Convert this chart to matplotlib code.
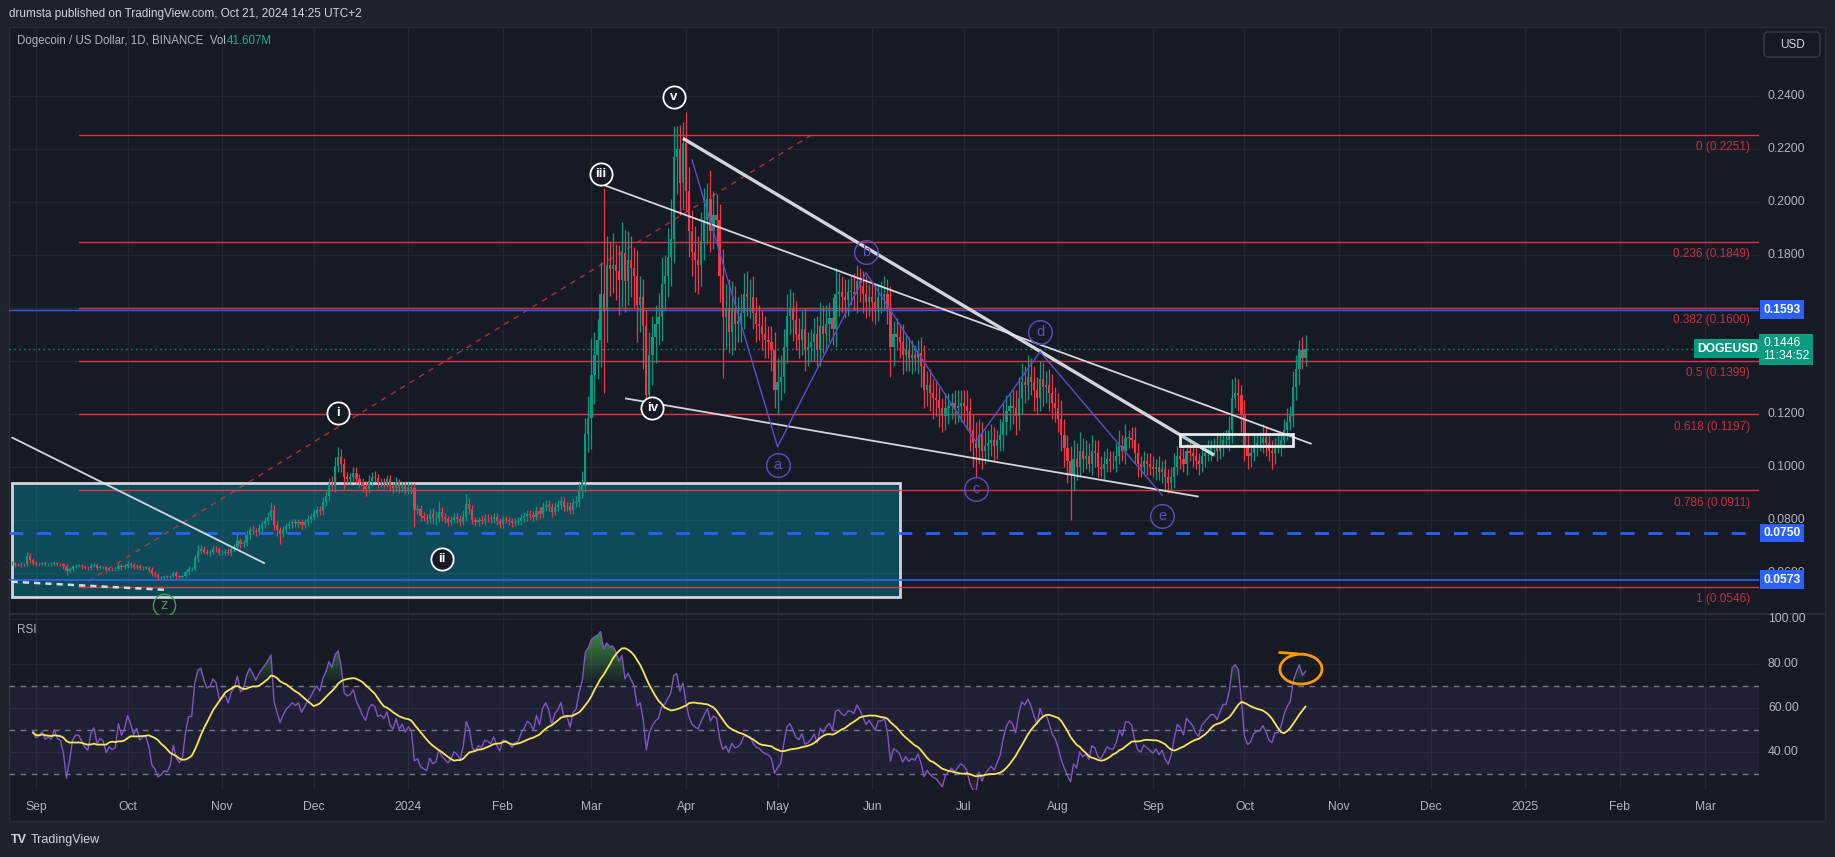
import numpy as np
import pandas as pd
import matplotlib

matplotlib.use("Agg")
import matplotlib.pyplot as plt
from matplotlib.patches import Rectangle, Ellipse, FancyBboxPatch
from matplotlib.path import Path
from matplotlib.transforms import IdentityTransform

plt.rcParams["font.family"] = ["Liberation Sans", "DejaVu Sans"]

# daily DOGE/USD candles, units of 0.0001 USD, first candle 2023-08-24
close_2023_aug = [636, 630, 628, 632, 631, 664, 648, 636]
close_2023_sep = [633, 634, 636, 632, 633, 632, 636, 632, 631, 624, 605, 613, 624, 627, 627,
                  623, 619, 617, 626, 629, 619, 622, 620, 612, 615, 613, 614, 627, 620, 624]
close_2023_oct = [633, 628, 621, 625, 617, 619, 619, 612, 596, 592, 583, 584, 586, 585, 588,
                  598, 587, 583, 586, 601, 614, 614, 654, 683, 689, 680, 673, 677, 691, 688, 675]
close_2023_nov = [676, 680, 674, 690, 698, 720, 707, 711, 742, 763, 758, 752, 768, 782, 795,
                  812, 835, 780, 762, 745, 762, 775, 782, 790, 786, 792, 779, 790, 803, 812]
close_2023_dec = [826, 838, 832, 867, 890, 935, 928, 1002, 1035, 1010, 960, 954, 960, 978, 955,
                  942, 926, 915, 947, 962, 958, 938, 942, 935, 952, 926, 918, 941, 919, 931, 914]
close_2024_jan = [925, 918, 838, 842, 815, 808, 801, 822, 805, 808, 829, 811, 802, 793, 799,
                  810, 804, 792, 812, 858, 842, 798, 790, 800, 795, 808, 806, 801, 812, 795, 784]
close_2024_feb = [801, 799, 794, 787, 793, 795, 806, 813, 822, 819, 811, 832, 820, 847, 857,
                  849, 829, 848, 855, 869, 849, 851, 836, 862, 868, 907, 943, 1124, 1185]
close_2024_mar = [1345, 1420, 1478, 1652, 1590, 1760, 1745, 1760, 1738, 1703, 1805, 1702, 1780, 1750, 1718,
                  1610, 1640, 1530, 1270, 1420, 1490, 1540, 1565, 1690, 1720, 1790, 1860, 2170, 2200, 2070, 2220]
close_2024_apr = [2040, 1890, 1810, 1780, 1760, 1850, 1930, 2010, 1890, 1950, 1930, 1720, 1565, 1600, 1510,
                  1600, 1540, 1550, 1580, 1650, 1640, 1640, 1580, 1540, 1530, 1500, 1480, 1470, 1440, 1290]
close_2024_may = [1320, 1340, 1450, 1570, 1600, 1555, 1500, 1480, 1520, 1440, 1450, 1470, 1500, 1440, 1530,
                  1500, 1540, 1560, 1520, 1650, 1660, 1640, 1630, 1660, 1660, 1650, 1700, 1680, 1650, 1620, 1640]
close_2024_jun = [1620, 1600, 1640, 1640, 1650, 1600, 1450, 1500, 1490, 1470, 1420, 1440, 1410, 1420, 1410,
                  1430, 1380, 1290, 1310, 1280, 1260, 1250, 1220, 1190, 1220, 1230, 1240, 1220, 1230, 1240]
close_2024_jul = [1230, 1210, 1140, 1090, 1070, 1120, 1060, 1080, 1090, 1100, 1080, 1100, 1120, 1170, 1210,
                  1230, 1220, 1190, 1260, 1320, 1310, 1340, 1320, 1290, 1260, 1330, 1300, 1310, 1280, 1240, 1220]
close_2024_aug = [1180, 1120, 1070, 1020, 970, 1030, 1000, 1060, 1030, 1040, 1010, 1060, 1050, 1000, 990,
                  1010, 1030, 1020, 1020, 1040, 1080, 1060, 1110, 1110, 1100, 1050, 1010, 1000, 1020, 1010, 1000]
close_2024_sep = [990, 1000, 980, 990, 960, 940, 960, 1000, 1040, 1030, 1010, 1060, 1050, 1040, 1020,
                  1010, 1040, 1050, 1060, 1070, 1070, 1060, 1080, 1100, 1100, 1140, 1260, 1280, 1270, 1200]
close_2024_oct = [1080, 1040, 1050, 1080, 1090, 1090, 1110, 1090, 1060, 1050, 1080, 1080, 1100, 1140, 1170,
                  1190, 1300, 1370, 1440, 1410, 1446]

# wick lengths above / below the candle body, same units
wick_up = (
    [8, 6, 5, 7, 6, 14, 12, 9]
    + [7, 5, 6, 8, 5, 6, 9, 6, 5, 7, 8, 10, 6, 7, 5, 6, 7, 5, 9, 6, 7, 8, 5, 6, 7, 5, 6, 9, 7, 8]
    + [12, 8, 7, 6, 8, 5, 6, 7, 8, 9, 6, 5, 6, 7, 5, 8, 10, 6, 5, 9, 10, 8, 12, 22, 14, 12, 10, 9, 15, 10, 9]
    + [10, 9, 12, 11, 10, 28, 12, 14, 18, 15, 16, 12, 14, 15, 16, 18, 33, 20, 14, 12, 13, 11, 14, 12, 13, 10, 12, 14, 16, 15]
    + [14, 12, 15, 18, 20, 22, 30, 35, 40, 30, 22, 20, 18, 22, 20, 18, 16, 20, 22, 18, 20, 16, 15, 14, 18, 16, 15, 20, 14, 15, 16]
    + [18, 15, 20, 14, 12, 15, 13, 18, 22, 25, 40, 20, 14, 12, 15, 16, 14, 13, 25, 40, 24, 15, 14, 12, 16, 14, 13, 12, 15, 14, 12]
    + [12, 14, 11, 13, 12, 15, 14, 16, 15, 13, 14, 18, 16, 20, 18, 16, 15, 17, 20, 22, 18, 16, 15, 20, 22, 30, 40, 60, 80]
    + [140, 90, 80, 120, 400, 110, 90, 120, 80, 100, 120, 90, 110, 90, 80, 100, 80, 70, 60, 90, 80, 70, 90, 100, 80, 110, 150, 115, 85, 90, 80]
    + [120, 90, 80, 100, 90, 110, 120, 60, 110, 90, 80, 60, 100, 90, 110, 100, 80, 90, 70, 80, 90, 70, 80, 60, 70, 60, 70, 50, 60, 70]
    + [90, 80, 70, 80, 70, 60, 70, 60, 70, 80, 60, 50, 60, 70, 90, 80, 70, 60, 80, 100, 70, 60, 70, 50, 60, 70, 60, 50, 60, 70, 50]
    + [60, 70, 50, 60, 70, 60, 80, 50, 60, 50, 70, 60, 50, 60, 40, 50, 60, 80, 50, 60, 50, 60, 50, 40, 60, 50, 40, 50, 60, 50]
    + [50, 60, 50, 60, 80, 60, 50, 60, 50, 60, 50, 40, 60, 70, 60, 50, 60, 70, 80, 70, 60, 80, 70, 60, 50, 70, 60, 50, 60, 70, 60]
    + [60, 70, 60, 50, 60, 70, 60, 70, 50, 60, 50, 60, 40, 50, 40, 50, 40, 30, 40, 50, 60, 40, 50, 30, 40, 50, 40, 30, 40, 30, 40]
    + [40, 30, 40, 30, 40, 30, 40, 50, 40, 30, 40, 30, 40, 30, 40, 30, 40, 30, 40, 30, 40, 50, 40, 30, 40, 50, 70, 60, 50, 40]
    + [50, 40, 30, 40, 30, 40, 50, 40, 30, 40, 30, 40, 30, 40, 50, 40, 60, 50, 40, 50, 50]
)
wick_dn = (
    [6, 8, 4, 6, 5, 4, 10, 7]
    + [6, 7, 5, 6, 8, 5, 6, 7, 6, 9, 12, 6, 7, 5, 6, 8, 6, 7, 5, 6, 8, 5, 7, 9, 6, 7, 5, 6, 8, 6]
    + [7, 9, 8, 6, 7, 8, 6, 8, 10, 9, 11, 7, 8, 6, 7, 6, 9, 8, 7, 6, 8, 9, 7, 12, 10, 9, 8, 10, 7, 11, 9]
    + [9, 10, 8, 11, 9, 10, 14, 10, 12, 14, 12, 15, 11, 13, 12, 14, 12, 18, 22, 35, 12, 14, 11, 13, 12, 15, 13, 11, 12, 14]
    + [12, 14, 13, 15, 16, 18, 20, 25, 22, 30, 45, 20, 18, 16, 22, 18, 20, 24, 15, 18, 16, 20, 14, 15, 13, 18, 16, 14, 17, 15, 16]
    + [16, 20, 65, 15, 18, 14, 16, 15, 20, 25, 18, 16, 14, 15, 13, 12, 16, 14, 12, 18, 20, 16, 15, 13, 12, 14, 16, 13, 12, 15, 14]
    + [14, 12, 13, 15, 11, 12, 14, 13, 16, 15, 14, 12, 18, 15, 14, 16, 17, 13, 15, 14, 18, 16, 15, 14, 13, 20, 25, 40, 70]
    + [120, 110, 90, 100, 310, 120, 100, 90, 110, 130, 100, 120, 90, 110, 120, 140, 100, 160, 40, 90, 110, 100, 80, 90, 100, 80, 110, 90, 140, 120, 100]
    + [80, 100, 90, 120, 110, 80, 70, 90, 80, 70, 90, 100, 230, 120, 80, 90, 100, 70, 80, 60, 70, 80, 60, 70, 50, 60, 70, 60, 80, 70]
    + [90, 70, 60, 60, 70, 80, 60, 70, 60, 80, 60, 50, 70, 60, 60, 70, 60, 70, 60, 70, 80, 60, 70, 60, 50, 60, 70, 60, 70, 60, 50]
    + [70, 60, 50, 60, 50, 60, 110, 70, 50, 60, 70, 60, 50, 60, 50, 60, 80, 70, 60, 70, 80, 60, 70, 60, 50, 60, 50, 60, 50, 60]
    + [60, 70, 80, 90, 110, 60, 70, 50, 60, 50, 60, 50, 40, 60, 50, 70, 60, 70, 50, 60, 70, 60, 50, 80, 60, 50, 70, 60, 70, 60, 50]
    + [50, 60, 70, 80, 170, 60, 50, 40, 50, 40, 30, 40, 50, 40, 30, 40, 30, 40, 30, 40, 30, 40, 50, 40, 30, 40, 50, 40, 30, 40, 30]
    + [30, 40, 30, 40, 50, 40, 30, 40, 30, 40, 30, 40, 30, 40, 30, 40, 30, 40, 30, 40, 30, 40, 30, 40, 30, 40, 50, 40, 60, 70]
    + [60, 50, 40, 30, 40, 30, 40, 50, 40, 60, 40, 30, 40, 30, 40, 30, 40, 50, 60, 40, 30]
)

FIRST_CANDLE = "2023-08-24"

# drawings on the chart (date, price)
fib_ratios = ["0", "0.236", "0.382", "0.5", "0.618", "0.786", "1"]
fib_prices = [0.2251, 0.1849, 0.1600, 0.1399, 0.1197, 0.0911, 0.0546]
fib_start = "2023-09-15"
fib_top_date = "2024-05-12"

blue_levels = [0.1593, 0.0750, 0.0573]
last_price = 0.1446
last_countdown = "11:34:52"

wave_labels = ["i", "ii", "iii", "iv", "v"]
wave_dates = ["2023-12-09", "2024-01-12", "2024-03-04", "2024-03-21", "2024-03-28"]
wave_prices = [0.1202, 0.0652, 0.2103, 0.1220, 0.2395]

abc_labels = ["a", "b", "c", "d", "e"]
abc_dates = ["2024-05-01", "2024-05-30", "2024-07-05", "2024-07-26", "2024-09-04"]
abc_prices = [0.1005, 0.1812, 0.0916, 0.1507, 0.0814]

zigzag_dates = ["2024-04-03", "2024-05-01", "2024-05-30", "2024-07-05", "2024-07-26", "2024-09-04"]
zigzag_prices = [0.2157, 0.1075, 0.1732, 0.1094, 0.1434, 0.0893]

wedge_top_thick = [("2024-03-31", 0.2239), ("2024-09-21", 0.1044)]
wedge_top_thin = [("2024-03-05", 0.2063), ("2024-10-23", 0.1086)]
wedge_bottom = [("2024-03-12", 0.1258), ("2024-09-16", 0.0887)]
old_trend = [("2023-08-24", 0.1111), ("2023-11-15", 0.0635)]
old_support = [("2023-08-24", 0.0566), ("2023-10-14", 0.0535)]
z_label = ("2023-10-13", 0.0478)

zone_dates = ["2023-08-24", "2024-06-10"]
zone_prices = [0.0507, 0.0938]
range_box_dates = ["2024-09-10", "2024-10-17"]
range_box_prices = [0.1078, 0.1123]

rsi_circle = ("2024-10-19", 77.5)

month_starts = pd.date_range("2023-09-01", "2025-03-01", freq="MS")
# scale values hidden behind the price tags in the reference
hidden_ticks = [0.14, 0.16]

# colours
OUTER = "#1e222d"
PANE = "#161a25"
GRID = "#232733"
TXT = "#b2b5be"
UP = "#089981"
DOWN = "#f23645"
FIB = "#f23645"
BLUE = "#2962ff"
PURPLE = "#5b4fc4"

ORIGIN = np.datetime64("2023-09-01")
W, H = 1835, 857


def day(s):
    return float((np.datetime64(s) - ORIGIN) / np.timedelta64(1, "D"))


def fx(px):
    return px / W


def fy(py):
    return 1 - py / H


def gradient_fill(axis, xs, base, ys, far, rgb, where):
    # zone fill like TradingView: clear at the band edge, stronger towards the extreme
    poly = axis.fill_between(xs, base, ys, where=where, interpolate=True, facecolor="none", lw=0)
    paths = poly.get_paths()
    if not paths:
        return
    alpha = np.linspace(0, 0.9, 64)
    if far < base:
        alpha = alpha[::-1]
    img = np.zeros((64, 1, 4))
    img[:, 0, :3] = rgb
    img[:, 0, 3] = alpha
    im = axis.imshow(img, extent=[xs[0], xs[-1], min(base, far), max(base, far)], origin="lower",
                     aspect="auto", interpolation="bilinear", zorder=2)
    im.set_clip_path(Path.make_compound_path(*paths), transform=axis.transData)


close = np.array(close_2023_aug + close_2023_sep + close_2023_oct + close_2023_nov + close_2023_dec
                 + close_2024_jan + close_2024_feb + close_2024_mar + close_2024_apr + close_2024_may
                 + close_2024_jun + close_2024_jul + close_2024_aug + close_2024_sep + close_2024_oct) / 1e4
up = np.array(wick_up) / 1e4
dn = np.array(wick_dn) / 1e4
opens = np.concatenate([[close[0]], close[:-1]])
highs = np.maximum(opens, close) + up
lows = np.minimum(opens, close) - dn
x = day(FIRST_CANDLE) + np.arange(len(close))

# RSI(14) and its 14-period SMA
delta = np.diff(close, prepend=close[0])
gain = pd.Series(np.clip(delta, 0, None)).ewm(alpha=1 / 14, adjust=True, min_periods=8).mean()
loss = pd.Series(np.clip(-delta, 0, None)).ewm(alpha=1 / 14, adjust=True, min_periods=8).mean()
rsi = (100 - 100 / (1 + gain / loss)).to_numpy()
rsi_ma = pd.Series(rsi).rolling(14, min_periods=1).mean().to_numpy()

fig = plt.figure(figsize=(W / 100, H / 100), dpi=100, facecolor=OUTER)
fig.patches.append(Rectangle((fx(9), fy(821)), fx(1825) - fx(9), fy(27) - fy(821),
                             transform=fig.transFigure, fc=PANE, ec="#2a2e39", lw=1, zorder=-5))

ax = fig.add_axes([fx(9), fy(614), fx(1759) - fx(9), fy(27) - fy(614)])
rx = fig.add_axes([fx(9), fy(790), fx(1759) - fx(9), fy(614) - fy(790)], sharex=ax)
for a in (ax, rx):
    a.set_facecolor("none")
    for s in a.spines.values():
        s.set_visible(False)
    a.tick_params(left=False, bottom=False, labelleft=False, labelbottom=False)

# grid
for m in month_starts:
    d = day(m.strftime("%Y-%m-%d"))
    ax.axvline(d, color=GRID, lw=1, zorder=0)
    rx.axvline(d, color=GRID, lw=1, zorder=0)
    lab = m.strftime("%Y") if m.month == 1 else m.strftime("%b")
    rx.text(d, -0.097, lab, transform=rx.get_xaxis_transform(), ha="center", va="center",
            color=TXT, fontsize=8.7, clip_on=False)
price_ticks = np.round(np.arange(0.06, 0.2401, 0.02), 2)
for p in price_ticks:
    ax.axhline(p, color=GRID, lw=1, zorder=0)
    if p in hidden_ticks:
        continue
    ax.text(1.0051, p, f"{p:.4f}", transform=ax.get_yaxis_transform(), ha="left", va="center",
            color=TXT, fontsize=8.7, clip_on=False, zorder=1)
for r in (40, 60, 80, 100):
    rx.axhline(r, color=GRID, lw=1, zorder=0)
    rx.text(1.0051, r, f"{r:.2f}", transform=rx.get_yaxis_transform(), ha="left", va="center",
            color=TXT, fontsize=8.7, clip_on=False)
ax.plot([0, 1.037], [0, 0], transform=ax.transAxes, color="#2a2e39", lw=1.5, clip_on=False)

# teal demand zone
z0, z1 = day(zone_dates[0]), day(zone_dates[1])
ax.add_patch(Rectangle((z0, zone_prices[0]), z1 - z0, zone_prices[1] - zone_prices[0],
                       fc=(0, 0.737, 0.831, 0.30), ec="#d1d4dc", lw=2, zorder=1))

# fib retracement
XMAX = 564.6
for ratio, p in zip(fib_ratios, fib_prices):
    ax.plot([day(fib_start), XMAX], [p, p], color=FIB, lw=1, alpha=0.9, zorder=2)
    ax.annotate(f"{ratio} ({p:.4f})", xy=(0.9949, p), xycoords=ax.get_yaxis_transform(),
                xytext=(0, -8.8), textcoords="offset points", ha="right", va="center",
                color=FIB, alpha=0.8, fontsize=8.5, zorder=2)
ax.plot([day(fib_start), day(fib_top_date)], [fib_prices[-1], fib_prices[0]],
        color=FIB, lw=1, ls=(0, (4, 4)), alpha=0.7, zorder=2)

# blue horizontal levels
ax.axhline(blue_levels[0], color=BLUE, lw=1, zorder=2)
ax.axhline(blue_levels[1], color=BLUE, lw=2, ls=(0, (5, 5)), zorder=2)
ax.axhline(blue_levels[2], color=BLUE, lw=1.2, zorder=2)
ax.axhline(last_price, color=UP, lw=1, ls=(0, (1, 2.5)), zorder=2)

# candles
colors = np.where(close >= opens, UP, DOWN)
ax.vlines(x, lows, highs, colors=colors, lw=0.9, zorder=3)
ax.bar(x, np.maximum(np.abs(close - opens), 0.00012), bottom=np.minimum(opens, close),
       width=0.72, color=colors, lw=0, zorder=3)

# trend lines and boxes
for pts, lw, ls in [(wedge_top_thick, 2.4, "-"), (wedge_top_thin, 1.3, "-"), (wedge_bottom, 1.3, "-"),
                    (old_trend, 1.3, "-"), (old_support, 1.8, (0, (2.5, 2)))]:
    ax.plot([day(pts[0][0]), day(pts[1][0])], [pts[0][1], pts[1][1]], color="#e8eaee",
            lw=lw, ls=ls, alpha=0.9, zorder=4, solid_capstyle="butt")
b0, b1 = day(range_box_dates[0]), day(range_box_dates[1])
ax.add_patch(Rectangle((b0, range_box_prices[0]), b1 - b0, range_box_prices[1] - range_box_prices[0],
                       fc=(0.03, 0.6, 0.5, 0.12), ec="#e8eaee", lw=2, zorder=4))
ax.plot([day(d) for d in zigzag_dates], zigzag_prices, color=PURPLE, lw=1, zorder=4)

# wave labels
for lab, d, p in zip(wave_labels, wave_dates, wave_prices):
    ax.plot(day(d), p, "o", ms=16, mfc=PANE, mec="white", mew=1.3, zorder=6)
    ax.text(day(d), p, lab, ha="center", va="center", color="white", fontsize=9.5,
            fontweight="bold", zorder=7)
for lab, d, p in zip(abc_labels, abc_dates, abc_prices):
    ax.plot(day(d), p, "o", ms=17, mfc="none", mec=PURPLE, mew=1, zorder=6)
    ax.text(day(d), p, lab, ha="center", va="center", color=PURPLE, fontsize=10.5, zorder=7)
ax.plot(day(z_label[0]), z_label[1], "o", ms=16, mfc="none", mec="#3f9e4f", mew=1, zorder=6)
ax.text(day(z_label[0]), z_label[1], "z", ha="center", va="center", color="#3f9e4f", fontsize=10.5, zorder=7)

# price scale tags
tag = dict(ha="left", va="center", color="white", fontsize=8.7, fontweight="bold", clip_on=False, zorder=10)
for p in blue_levels:
    ax.text(1.0023, p, f"{p:.4f}", transform=ax.get_yaxis_transform(),
            bbox=dict(boxstyle="square,pad=0.28", fc=BLUE, ec="none"), **tag)
ax.text(1.0023, last_price - 0.0004, f"{last_price:.4f}\n{last_countdown}", transform=ax.get_yaxis_transform(),
        bbox=dict(boxstyle="square,pad=0.3", fc=UP, ec="none"), linespacing=1.05,
        **{**tag, "fontweight": "normal"})
ax.text(0.9995, last_price, "DOGEUSD", transform=ax.get_yaxis_transform(), ha="right", va="center",
        color="white", fontsize=8.7, fontweight="bold",
        bbox=dict(boxstyle="square,pad=0.28", fc=UP, ec="none"), zorder=10)

# legend and header
ax.text(0.0046, 0.976, "Dogecoin / US Dollar, 1D, BINANCE  Vol", transform=ax.transAxes,
        ha="left", va="center", color=TXT, fontsize=8.3)
ax.text(0.1246, 0.976, "41.607M", transform=ax.transAxes, ha="left", va="center", color="#22ab94", fontsize=8.3)
fig.text(fx(9), fy(14), "drumsta published on TradingView.com, Oct 21, 2024 14:25 UTC+2",
         ha="left", va="center", color="#d1d4dc", fontsize=8.5)
fig.patches.append(FancyBboxPatch((1764, H - 57), 56, 25, boxstyle="round,pad=0,rounding_size=4",
                                  transform=IdentityTransform(), fc=PANE, ec="#363a45", lw=1))
fig.text(fx(1792), fy(44.5), "USD", ha="center", va="center", color="#d1d4dc", fontsize=8.5)
fig.text(fx(11), fy(840), "TV", ha="left", va="center", color="#d1d4dc", fontsize=9, fontweight="bold")
fig.text(fx(31), fy(840), "TradingView", ha="left", va="center", color="#d1d4dc", fontsize=9)

# RSI pane
rx.axhspan(30, 70, color="#7e57c2", alpha=0.1, lw=0, zorder=0)
for r in (70, 50, 30):
    rx.axhline(r, color="#787b86", lw=1, ls=(0, (4, 4)), zorder=1)
valid = ~np.isnan(rsi)
gradient_fill(rx, x[valid], 70, rsi[valid], 100, (0.30, 0.69, 0.31), rsi[valid] > 70)
gradient_fill(rx, x[valid], 30, rsi[valid], 0, (0.95, 0.21, 0.27), rsi[valid] < 30)
rx.plot(x, rsi, color="#7e57c2", lw=1, zorder=3)
rx.plot(x, rsi_ma, color="#f5e65a", lw=1.3, zorder=4)
rx.text(0.0046, 0.909, "RSI", transform=rx.transAxes, ha="left", va="center", color=TXT, fontsize=8.5)
cx = day(rsi_circle[0]) + 0.5
rx.add_patch(Ellipse((cx, rsi_circle[1]), 13.8, 13.5, fc="none", ec="#ff9800", lw=2, zorder=6))
rx.plot([cx - 7, cx - 1], [85.0, 84.4], color="#ff9800", lw=2, zorder=6, solid_capstyle="round")

ax.set_xlim(-8.85, XMAX)
ax.set_ylim(0.04442, 0.26592)
rx.set_ylim(22.9, 102.4)

fig.savefig("out.png", dpi=100, facecolor=OUTER)
